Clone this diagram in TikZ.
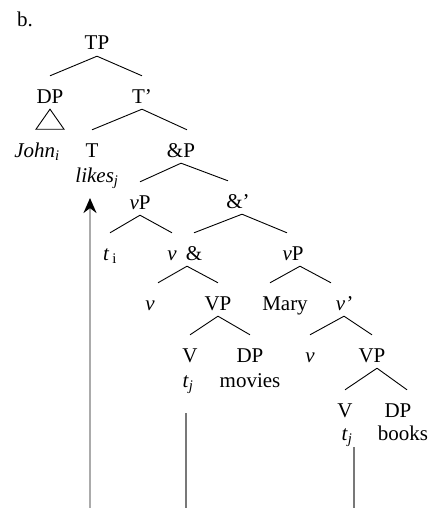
\documentclass[tikz,border=0pt]{standalone}
\usepackage{fontspec}
\setmainfont{Liberation Serif}
\usetikzlibrary{arrows.meta}
\begin{document}
\begin{tikzpicture}[x=1pt,y=-1pt,
	lab/.style={inner sep=0pt, text height=27pt, text depth=6pt, anchor=base, font=\fontsize{21}{24}\selectfont},
	br/.style={line width=0.9pt},
	trace/.style={line width=2pt}]
					\useasboundingbox (0,0) rectangle (430,508);
					\node[lab, anchor=base west] (b) at (17,27) {b.};
					\node[lab] (TP) at (97,50) {TP};
					\node[lab] (DP1) at (50,103) {DP};
					\node[lab] (Tbar) at (142,103) {T'};
					\node[lab] (John) at (37,157) {\textit{John}\textsubscript{\textit{i}}};
					\node[lab] (T) at (92,157) {T};
					\node[lab] (AndP) at (181,157) {\&P};
					\node[lab] (likes) at (97,182) {\textit{likes}\textsubscript{\textit{j}}};
					\node[lab] (vP1) at (140,209) {\textit{v}P};
					\node[lab] (Andbar) at (238,208) {\&'};
					\node[lab] (ti) at (110,260) {\textit{t}\hspace{3pt}\textsubscript{i}};
					\node[lab] (v1) at (172,260) {\textit{v}};
					\node[lab] (And) at (194,260) {\&};
					\node[lab] (vP2) at (293,260) {\textit{v}P};
					\node[lab] (v2) at (150,310) {\textit{v}};
					\node[lab] (VP1) at (218,310) {VP};
					\node[lab] (Mary) at (285,310) {Mary};
					\node[lab] (vbar) at (344,310) {\textit{v'}};
					\node[lab] (V1) at (190,362) {V};
					\node[lab] (DP2) at (250,362) {DP};
					\node[lab] (v3) at (310,362) {\textit{v}};
					\node[lab] (VP2) at (372,362) {VP};
					\node[lab] (tj1) at (188,387) {\textit{t}\textsubscript{\textit{j}}};
					\node[lab] (movies) at (250,387) {movies};
					\node[lab] (V2) at (345,417) {V};
					\node[lab] (DP3) at (398,417) {DP};
					\node[lab] (tj2) at (347,440) {\textit{t}\textsubscript{\textit{j}}};
					\node[lab] (books) at (403,440) {books};
					\draw[br] (TP.south) -- (DP1.north);
					\draw[br] (TP.south) -- (Tbar.north);
					\draw[br] (DP1.south) -- ++(-14,20) -- ++(28,0) -- cycle;
					\draw[br] (Tbar.south) -- (T.north);
					\draw[br] (Tbar.south) -- ([xshift=6pt]AndP.north);
					\draw[br] (AndP.south) -- (vP1.north);
					\draw[br] (AndP.south) -- ([xshift=-10pt]Andbar.north);
					\draw[br] (vP1.south) -- (ti.north);
					\draw[br] (vP1.south) -- (v1.north);
					\draw[br] ([xshift=4pt]Andbar.south) -- (And.north);
					\draw[br] ([xshift=4pt]Andbar.south) -- ([xshift=-6pt]vP2.north);
					\draw[br] ([xshift=-7pt]And.south) -- ([xshift=8pt]v2.north);
					\draw[br] ([xshift=-7pt]And.south) -- (VP1.north);
					\draw[br] ([xshift=7pt]vP2.south) -- ([xshift=-15pt]Mary.north);
					\draw[br] ([xshift=7pt]vP2.south) -- ([xshift=-13pt]vbar.north);
					\draw[br] (VP1.south) -- (V1.north);
					\draw[br] (VP1.south) -- (DP2.north);
					\draw[br] (vbar.south) -- (v3.north);
					\draw[br] (vbar.south) -- (VP2.north);
					\draw[br] ([xshift=5pt]VP2.south) -- (V2.north);
					\draw[br] ([xshift=5pt]VP2.south) -- ([xshift=9pt]DP3.north);
					\coordinate (A0) at (90,508);
					\coordinate (A1) at (90,198);
					\coordinate (B0) at (186,508);
					\coordinate (B1) at (186,413);
					\coordinate (C0) at (354,508);
					\coordinate (C1) at (354,447);
					\draw[trace, black!33, -{Stealth[black, length=15pt, width=13pt]}] (A0) -- (A1);
					\draw[trace, black!53] (B1) -- (B0);
					\draw[trace, black!53] (C1) -- (C0);
				\end{tikzpicture}
\end{document}
